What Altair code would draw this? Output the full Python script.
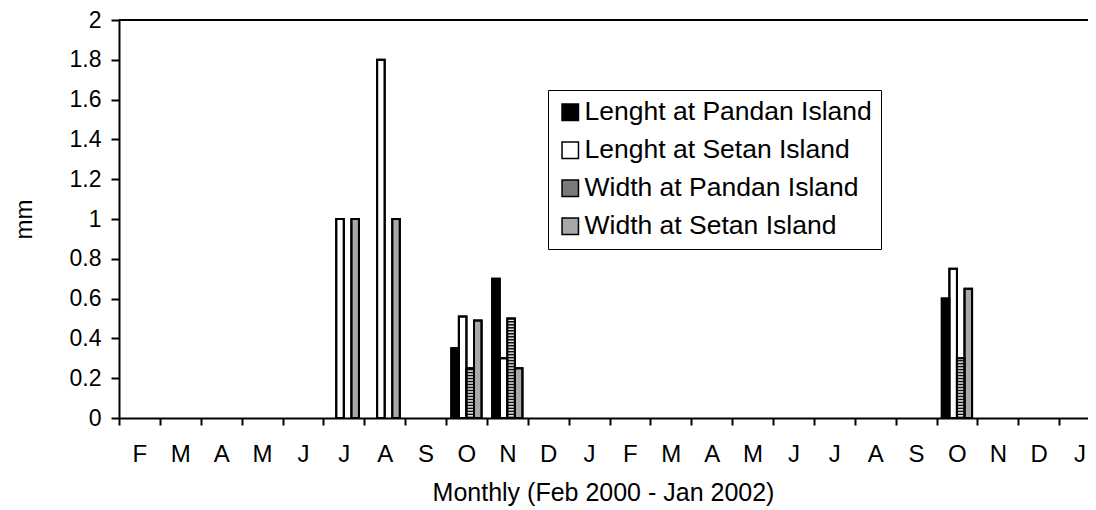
import json
import altair as alt
import pandas as pd

months = ["F", "M", "A", "M", "J", "J", "A", "S", "O", "N", "D", "J",
          "F", "M", "A", "M", "J", "J", "A", "S", "O", "N", "D", "J"]
series = ["Lenght at Pandan Island", "Lenght at Setan Island",
          "Width at Pandan Island", "Width at Setan Island"]
len_pandan = [0, 0, 0, 0, 0, 0, 0, 0, 0.35, 0.70, 0, 0, 0, 0, 0, 0, 0, 0, 0, 0, 0.60, 0, 0, 0]
len_setan = [0, 0, 0, 0, 0, 1.00, 1.80, 0, 0.51, 0.30, 0, 0, 0, 0, 0, 0, 0, 0, 0, 0, 0.75, 0, 0, 0]
wid_pandan = [0, 0, 0, 0, 0, 0, 0, 0, 0.25, 0.50, 0, 0, 0, 0, 0, 0, 0, 0, 0, 0, 0.30, 0, 0, 0]
wid_setan = [0, 0, 0, 0, 0, 1.00, 1.00, 0, 0.49, 0.25, 0, 0, 0, 0, 0, 0, 0, 0, 0, 0, 0.65, 0, 0, 0]
y_ticks = [0, 0.2, 0.4, 0.6, 0.8, 1.0, 1.2, 1.4, 1.6, 1.8, 2.0]

rows = []
for i in range(len(months)):
    for s, vals in zip(series, [len_pandan, len_setan, wid_pandan, wid_setan]):
        if vals[i] > 0:
            rows.append({"idx": i, "series": s, "value": vals[i]})
df = pd.DataFrame(rows)

# horizontal stripe texture for "Width at Pandan Island"
period = 0.015
stripe_rows = []
for r in rows:
    if r["series"] == series[2]:
        k = 0
        while k * period < r["value"]:
            lo = k * period
            mid = min(lo + period / 2, r["value"])
            hi = min(lo + period, r["value"])
            stripe_rows.append({"idx": r["idx"], "series": r["series"], "value": lo, "hi": mid, "c": "#111111"})
            if mid < hi:
                stripe_rows.append({"idx": r["idx"], "series": r["series"], "value": mid, "hi": hi, "c": "#e0e0e0"})
            k += 1
stripes = pd.DataFrame(stripe_rows)

FONT = "Liberation Sans"
label_expr = json.dumps(months) + "[datum.value]"
XT = "Monthly (Feb 2000 - Jan 2002)"
YT = "mm"

# the original plot runs slightly past the right edge of the picture
x_scale = alt.Scale(domain=list(range(len(months))), paddingInner=0, paddingOuter=0, range=[0, 981])
off_scale = alt.Scale(domain=series, paddingInner=0, paddingOuter=0.7)
y_scale = alt.Scale(domain=[0, 2])

x_axis = alt.Axis(labelExpr=label_expr, labelAngle=0, tickBand="extent", tickSize=7,
                  labelPadding=17, titleY=62, titleX=484)
y_axis = alt.Axis(values=y_ticks, format=".1~f", tickSize=8, labelPadding=10,
                  labelOverlap=False, labelFontSize=23, titleFontSize=24,
                  titleX=-83, titleY=199)

x_enc = alt.X("idx:O", scale=x_scale, title=XT, axis=x_axis)
y_enc = alt.Y("value:Q", scale=y_scale, stack=None, title=YT, axis=y_axis)
xo = alt.XOffset("series:N", scale=off_scale)

bars = alt.Chart(df).mark_bar(stroke="black", strokeWidth=2).encode(
    x=x_enc,
    xOffset=xo,
    y=y_enc,
    fill=alt.Fill("series:N", scale=alt.Scale(domain=series,
                  range=["#000000", "#ffffff", "#7a7a7a", "#a8a8a8"]),
                  legend=alt.Legend(title=None, orient="none", legendX=429, legendY=70,
                                    direction="vertical", symbolType="square", symbolSize=270,
                                    symbolStrokeColor="black", symbolStrokeWidth=1.5,
                                    symbolOpacity=1, labelFontSize=26.5, labelFont=FONT,
                                    labelColor="black", labelLimit=0, labelOffset=1,
                                    strokeColor="black", fillColor="white", padding=9,
                                    rowPadding=11)),
)

stripe_layer = alt.Chart(stripes).mark_bar(strokeWidth=0).encode(
    x=x_enc,
    xOffset=xo,
    y=y_enc,
    y2="hi:Q",
    fill=alt.Fill("c:N", scale=None),
)

outline = alt.Chart(df).mark_bar(fill="transparent", stroke="black", strokeWidth=2).encode(
    x=x_enc,
    xOffset=xo,
    y=y_enc,
)

top_rule = alt.Chart(pd.DataFrame({"value": [2.0]})).mark_rule(color="black", strokeWidth=2).encode(
    y=y_enc,
)

chart = alt.layer(bars, stripe_layer, outline, top_rule).properties(
    width=969, height=398,
    padding={"left": 111, "top": 12, "right": 0, "bottom": 88},
    autosize="none",
).configure_view(stroke=None).configure_axis(
    grid=False, domainColor="black", domainWidth=2, tickColor="black", tickWidth=2,
    labelColor="black", labelFont=FONT, labelFontSize=24, labelOverlap=False,
    titleColor="black", titleFont=FONT, titleFontSize=25, titleFontWeight="normal",
)

chart.save("out.html", embed_options={"renderer": "svg", "actions": False})
